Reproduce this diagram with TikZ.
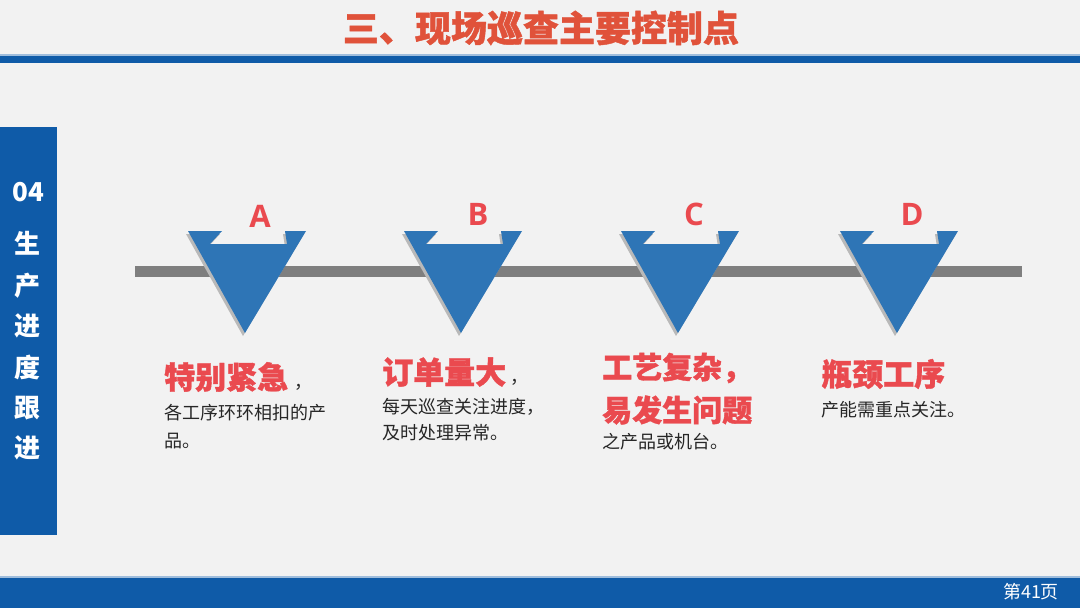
\documentclass[tikz,border=0pt]{standalone}
\usepackage{fontspec}
\setmainfont{Noto Sans CJK SC}
\newfontfamily\cjk{Noto Sans CJK SC}[BoldFeatures={FakeBold=1.2}]
\newfontfamily\cjkb{Noto Sans CJK SC}
\newfontfamily\latinb{Open Sans}
\definecolor{bg}{HTML}{F2F2F2}
\definecolor{barblue}{HTML}{0F5BA8}
\definecolor{triblue}{HTML}{2E75B6}
\definecolor{titlered}{HTML}{E0523A}
\definecolor{headred}{HTML}{EA4A4F}
\definecolor{bodytext}{HTML}{262626}
\definecolor{linegray}{HTML}{7F7F7F}
\tikzset{
  letter/.style={text=headred,font=\latinb\bfseries\fontsize{31}{31}\selectfont,inner sep=0pt},
  head/.style={text=headred,font=\cjk\bfseries\fontsize{31}{40}\selectfont,inner sep=0pt,anchor=west},
  headc/.style={head,font=\cjk\bfseries\fontsize{30}{40}\selectfont},
  body/.style={text=bodytext,font=\cjkb\fontsize{18}{26}\selectfont,inner sep=0pt,anchor=west},
  side/.style={text=white,font=\cjkb\bfseries\fontsize{26}{26}\selectfont,inner sep=0pt},
}
\newcommand{\triangleshape}[3]{% center x, dx, dy
  ({#1-59+#2},{231+#3}) -- ({#1-25+#2},{231+#3}) -- ({#1-37+#2},{244+#3}) -- ({#1+40+#2},{244+#3}) -- ({#1+38+#2},{231+#3}) -- ({#1+59+#2},{231+#3}) -- ({#1-2+#2},{333+#3}) -- cycle}
\newcommand{\tri}[1]{%
  \fill[gray!55] \triangleshape{#1}{-2}{3};
  \fill[triblue] \triangleshape{#1}{0}{0};
}
\begin{document}
\begin{tikzpicture}[x=1pt,y=-1pt]
\useasboundingbox (0,0) rectangle (1080,608);
\fill[bg] (0,0) rectangle (1080,608);
% title
\node[text=titlered,font=\cjk\bfseries\fontsize{36}{36}\selectfont,inner sep=0pt] (title) at (541,28) {三、现场巡查主要控制点};
\fill[barblue!40] (0,54) rectangle (1080,56);
\fill[barblue] (0,56) rectangle (1080,63);
% left bar
\fill[barblue] (0,127) rectangle (57,535);
\node[side] (s0) at (28,192) {04};
\node[side] (s1) at (28,243) {生};
\node[side] (s2) at (28,286) {产};
\node[side] (s3) at (28,326) {进};
\node[side] (s4) at (28,367) {度};
\node[side] (s5) at (28,408) {跟};
\node[side] (s6) at (28,448) {进};
% bottom bar
\fill[barblue!40] (0,576) rectangle (1080,578);
\fill[barblue] (0,578) rectangle (1080,608);
\node[text=white,font=\cjkb\fontsize{18}{18}\selectfont,inner sep=0pt] (page) at (1031,592) {第41页};
% timeline
\fill[linegray] (135,266) rectangle (1022,277);
\tri{247}
\tri{463}
\tri{680}
\tri{899}
\node[letter] (la) at (260,216) {A};
\node[letter] (lb) at (478,214) {B};
\node[letter] (lc) at (694,214) {C};
\node[letter] (ld) at (912,214) {D};
% texts
\node[head] (ha) at (164,377) {特别紧急\hspace{6pt}\textcolor{bodytext}{\cjkb\mdseries\fontsize{18}{18}\selectfont，}};
\node[body] (ba1) at (164,413) {各工序环环相扣的产};
\node[body] (ba2) at (164,441) {品。};
\node[head] (hb) at (382,372) {订单量大\hspace{4pt}\textcolor{bodytext}{\cjkb\mdseries\fontsize{18}{18}\selectfont，}};
\node[body] (bb1) at (382,407) {每天巡查关注进度，};
\node[body] (bb2) at (382,433) {及时处理异常。};
\node[headc] (hc1) at (602,368) {工艺复杂，};
\node[headc] (hc2) at (602,410) {易发生问题};
\node[body] (bc1) at (602,442) {之产品或机台。};
\node[head] (hd) at (821,374) {瓶颈工序};
\node[body] (bd1) at (821,410) {产能需重点关注。};
\end{tikzpicture}
\end{document}
